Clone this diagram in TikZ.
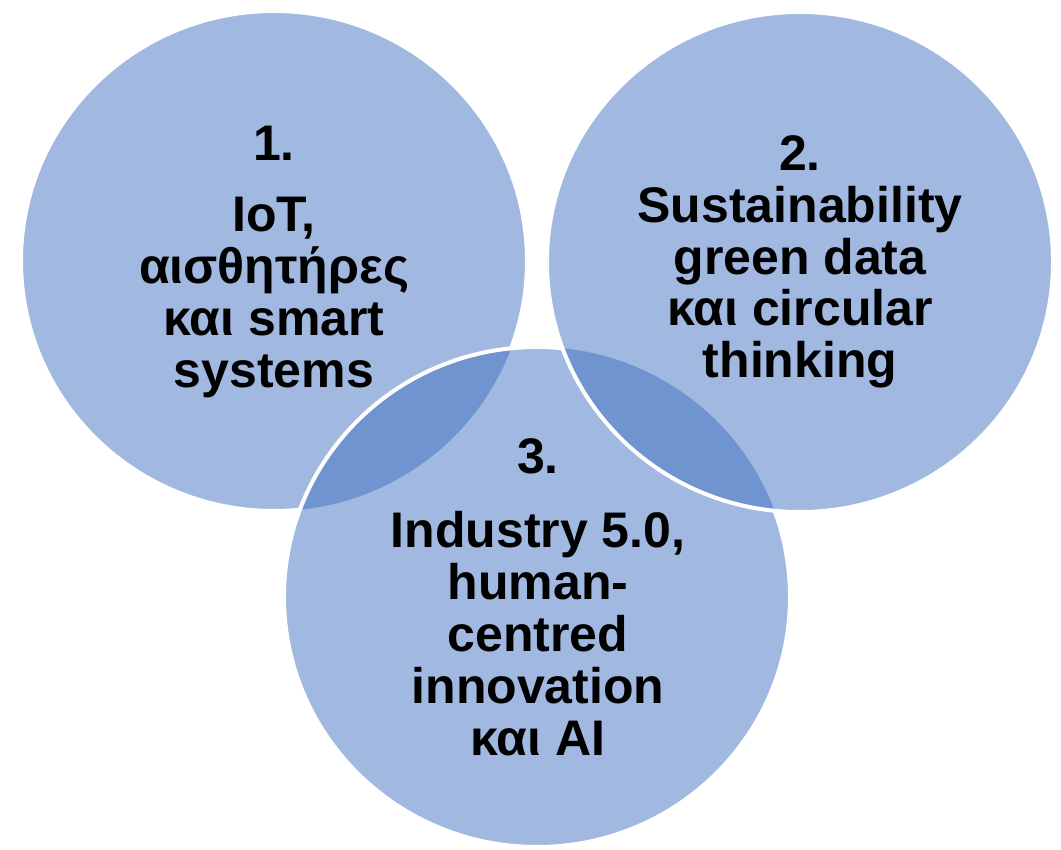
\documentclass[tikz,border=0pt]{standalone}
\usepackage{fontspec}
\setmainfont{Liberation Sans}
\usetikzlibrary{positioning}
\definecolor{venn}{RGB}{161,184,225}
\definecolor{vennover}{RGB}{112,148,208}

\begin{document}
\begin{tikzpicture}[x=1pt, y=-1pt,
    orb/.style={x radius=253pt, y radius=250pt},
    rim/.style={draw=white, line width=4pt},
    venntext/.style={font=\bfseries\fontsize{50}{52}\selectfont, align=center, anchor=base, inner sep=0pt}]
    \useasboundingbox (0,0) rectangle (1061,850);

    % Centres of the three circles
    \coordinate (c1) at (274,261);
    \coordinate (c2) at (800,262);
    \coordinate (c3) at (537,597);

    % Circle one
    \fill[venn] (c1) ellipse [orb];
    \draw[rim] (c1) ellipse [orb];

    % Circle three and its overlap with circle one
    \fill[venn] (c3) ellipse [orb];
    \begin{scope}
        \clip (c1) ellipse [orb];
        \fill[vennover] (c3) ellipse [orb];
    \end{scope}
    \draw[rim] (c3) ellipse [orb];

    % Circle two and its overlap with circle three
    \fill[venn] (c2) ellipse [orb];
    \begin{scope}
        \clip (c2) ellipse [orb];
        \fill[vennover] (c3) ellipse [orb];
    \end{scope}
    \draw[rim] (c2) ellipse [orb];

    % Texts (anchored at the last line)
    \node[venntext] (iot) at (274,388) {1.\\[20pt]IoT,\\αισθητήρες\\και smart\\systems};
    \node[venntext] (green) at (800,378) {2.\\Sustainability\\green data\\και circular\\thinking};
    \node[venntext] (human) at (538,755) {3.\\[22pt]Industry 5.0,\\human-\\centred\\innovation\\και AI};

\end{tikzpicture}
\end{document}
